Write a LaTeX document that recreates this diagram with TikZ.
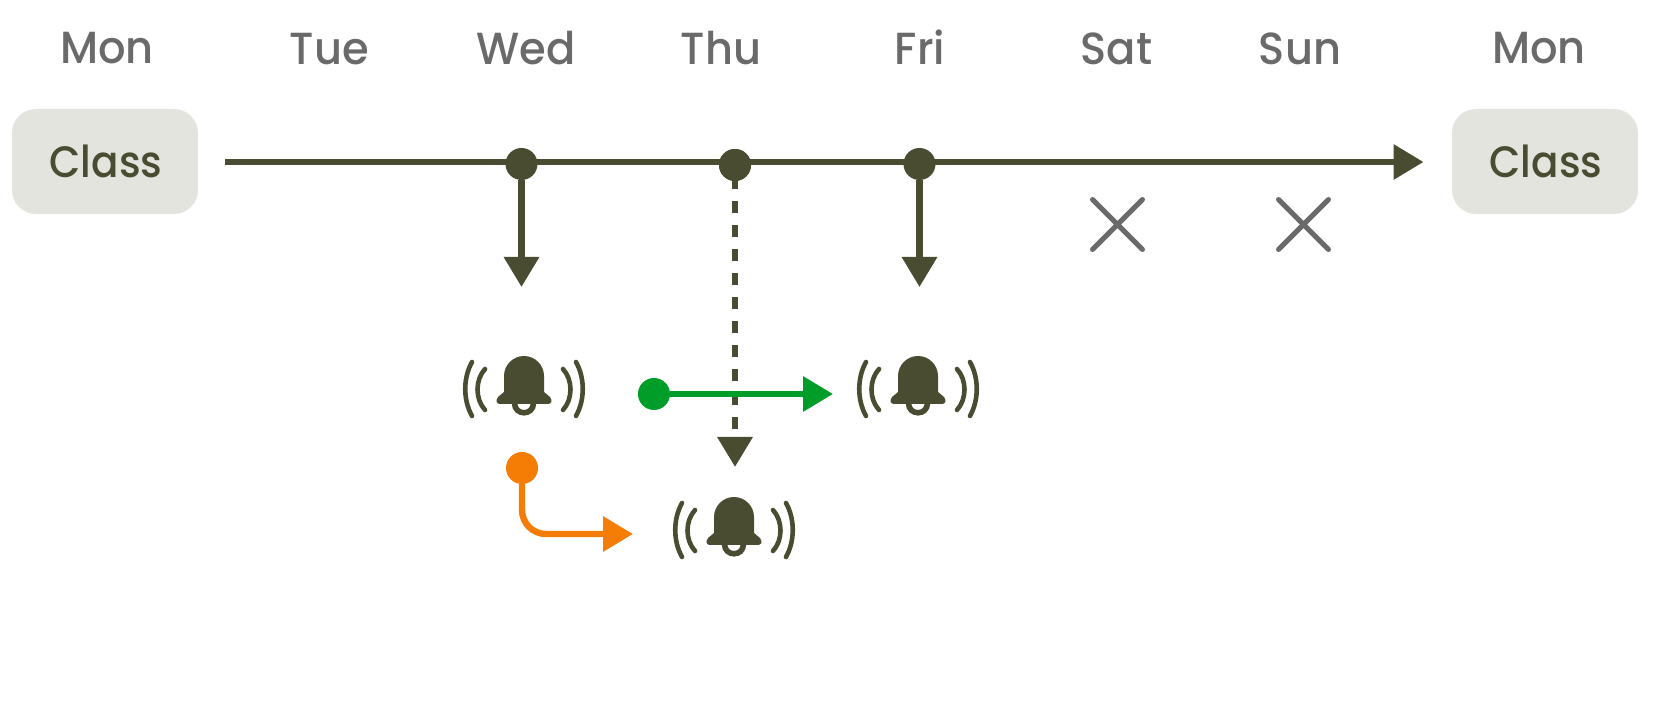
\documentclass[tikz,border=0pt]{standalone}
\usepackage{fontspec}
\setmainfont{Poppins Medium}[FakeStretch=0.92]
\newfontfamily\dayfont{Poppins Medium}[FakeStretch=0.96]
\usetikzlibrary{arrows.meta,positioning,shapes.misc}
\definecolor{olive}{HTML}{4A4C32}
\definecolor{daygrey}{HTML}{6A6A6A}
\definecolor{boxgrey}{HTML}{E3E4DE}
\definecolor{alarmgreen}{HTML}{009E28}
\definecolor{alarmorange}{HTML}{F57C05}
\tikzset{
  day/.style={anchor=base,text=daygrey,font=\dayfont\fontsize{22.5}{26}\selectfont},
  classbox/.style={fill=boxgrey,rounded corners=12pt,minimum width=93pt,minimum height=52.5pt,
    inner sep=0pt,outer sep=0pt,text=olive,font=\fontsize{22}{26}\selectfont},
  dot/.style={circle,fill=#1,minimum size=16pt,inner sep=0pt,outer sep=0pt},
  arr/.style={line width=3.2pt,-{Triangle[length=15pt,width=17pt]}},
  skipmark/.style={cross out,draw=daygrey,line width=2.5pt,line cap=round,minimum size=25pt,inner sep=0pt,outer sep=0pt},
  bell/.pic={
    \fill[olive] (-20,-28) .. controls (-20,-39) and (-11,-48) .. (0,-48)
      .. controls (11,-48) and (20,-39) .. (20,-28) -- (20,-12) -- (26,-7)
      .. controls (29,-3) and (27,0) .. (24,0) -- (-24,0)
      .. controls (-27,0) and (-29,-3) .. (-26,-7) -- (-20,-12) -- cycle;
    \draw[olive,line width=2.8pt] (-9.5,-1) .. controls (-9.5,12) and (9.5,12) .. (9.5,-1);
    \foreach \s in {-1,1} {
      \draw[olive,line width=2.3pt,line cap=round] (\s*52,-42) .. controls (\s*61,-26) and (\s*61,-4) .. (\s*52,12);
      \draw[olive,line width=2.3pt,line cap=round] (\s*39,-35) .. controls (\s*49,-24) and (\s*49,-5) .. (\s*39,6);
    }
  }
}
\begin{document}
\begin{tikzpicture}[x=.5pt,y=-.5pt]
\useasboundingbox (0,0) rectangle (1677,705);

\node (classA) [classbox] at (105,161.5) {\hspace{1pt}Class};
\node (classB) [classbox] at (1545,161.5) {\hspace{1pt}Class};

\node (monA) [day] at (107,64) {Mon};
\node (tue)  [day] at (329.5,65) {Tue};
\node (wed)  [day] at (526,65) {Wed};
\node (thu)  [day] at (721,65) {Thu};
\node (fri)  [day] at (920,65) {Fri};
\node (sat)  [day] at (1116.5,65) {Sat};
\node (sun)  [day] at (1300,65) {Sun};
\node (monB) [day] at (1539,64) {Mon};

\coordinate (lineStart) at (225,162);
\coordinate (lineEnd) at (1423.5,162);
\draw[arr,olive] (lineStart) -- (lineEnd);

\node (wedDot) [dot=olive] at (521.5,164) {};
\node (thuDot) [dot=olive] at (735,165) {};
\node (friDot) [dot=olive] at (919.5,164) {};

\coordinate [below=53.5pt of wedDot] (wedEnd);
\coordinate [below=53.5pt of friDot] (friEnd);
\coordinate (thuEnd) at (735,467);
\draw[arr,olive] (wedDot) -- (wedEnd);
\draw[arr,olive] (friDot) -- (friEnd);
\draw[arr,olive,dash pattern=on 6pt off 6pt,dash phase=6pt] (thuDot.center) -- (thuEnd);
\node [dot=olive] at (thuDot) {};

\node (satX) [skipmark] at (1117.5,224.5) {};
\node (sunX) [skipmark] at (1303.5,224.5) {};

\pic at (524,404) {bell};
\pic at (734,545) {bell};
\pic at (918,404) {bell};

\node (greenDot) [dot=alarmgreen] at (654,394) {};
\coordinate (greenEnd) at (833,394);
\draw[arr,alarmgreen] (greenDot) -- (greenEnd);

\node (orangeDot) [dot=alarmorange] at (522,468) {};
\coordinate (orangeEnd) at (633,534);
\draw[arr,alarmorange,rounded corners=12pt] (orangeDot) |- (orangeEnd);

\end{tikzpicture}
\end{document}
